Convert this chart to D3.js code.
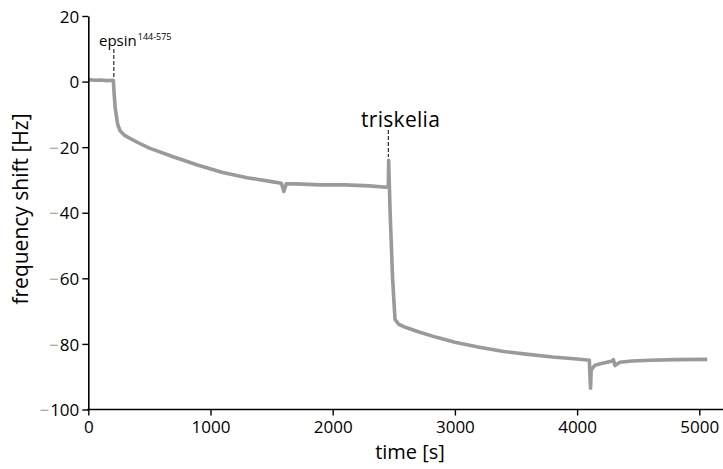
<!DOCTYPE html>
<html>
<head>
<meta charset="utf-8">
<script src="https://cdn.jsdelivr.net/npm/d3@7"></script>
<style>
  body { margin: 0; background: #fff; }
  text { font-family: "Open Sans", "Noto Sans", sans-serif; }
</style>
</head>
<body>
<div id="chart"></div>
<script>
// trace: time [s] and frequency shift [Hz]
var times = [0, 50, 100, 150, 205, 210, 220, 240, 260, 300, 400, 500, 700, 900, 1100, 1300, 1500, 1580, 1600, 1620, 1700, 1900, 2100, 2300, 2440, 2455, 2458, 2470, 2490, 2510, 2540, 2600, 2700, 2850, 3000, 3200, 3400, 3600, 3800, 4000, 4100, 4110, 4115, 4145, 4200, 4280, 4297, 4310, 4350, 4450, 4600, 4800, 5065]
var shifts = [0.6, 0.4, 0.5, 0.3, 0.4, -3, -8, -13, -15, -16.5, -18.5, -20.3, -23, -25.5, -27.7, -29.3, -30.5, -31, -33.5, -31.2, -31.2, -31.5, -31.5, -31.8, -32.2, -32, -24, -40, -60, -72.5, -74, -75, -76.3, -78, -79.5, -81, -82.3, -83.2, -84, -84.6, -85, -93.5, -88, -86.5, -86, -85.3, -84.8, -86.6, -85.6, -85.2, -85, -84.8, -84.7]

var xTicks = [0, 1000, 2000, 3000, 4000, 5000]
var yTicks = [-100, -80, -60, -40, -20, 0, 20]

// injection markers
var markers = [
  { time: 205, name: "epsin", sup: "144-575" },
  { time: 2455, name: "triskelia", sup: "" }
]

var width = 723, height = 469

var svg = d3.select("#chart").append("svg")
    .attr("width", width)
    .attr("height", height)

var x = d3.scaleLinear().domain([0, 5000]).range([88.3, 699.3])
var y = d3.scaleLinear().domain([-100, 20]).range([409.5, 16])

// trace
var line = d3.line()
    .x(function(d, i) { return x(times[i]) })
    .y(function(d) { return y(d) })

svg.append("path")
    .datum(shifts)
    .attr("fill", "none")
    .attr("stroke", "#9a9a9a")
    .attr("stroke-width", 3.6)
    .attr("stroke-linejoin", "round")
    .attr("d", line)

// y axis
var yAxis = svg.append("g")
    .attr("transform", "translate(" + x(0) + ",0)")
    .call(d3.axisLeft(y).tickValues(yTicks).tickSize(6).tickSizeOuter(0).tickFormat(""))
yAxis.select(".domain").attr("stroke-width", 1.6)
yAxis.selectAll(".tick line").attr("stroke-width", 1.4)

yAxis.selectAll(".tick").append("text")
    .attr("x", -9)
    .attr("dy", "0.36em")
    .attr("text-anchor", "end")
    .style("font-size", "17px")
    .each(function(d) {
      var t = d3.select(this)
      if (d < 0) t.append("tspan").attr("fill", "#999").text("\u2212")
      t.append("tspan").attr("fill", "#000").attr("dx", d < 0 ? 1 : 0).text(Math.abs(d))
    })

// x axis
var xAxis = svg.append("g")
    .attr("transform", "translate(0," + y(-100) + ")")
    .call(d3.axisBottom(x).tickValues(xTicks).tickSize(6).tickSizeOuter(0).tickFormat(d3.format("d")))
xAxis.select(".domain").remove()
xAxis.append("line")
    .attr("x1", x(0) - 1).attr("x2", width)
    .attr("stroke", "#000").attr("stroke-width", 1.6)
xAxis.selectAll(".tick line").attr("stroke-width", 1.4)
xAxis.selectAll(".tick text")
    .attr("y", 23)
    .attr("dy", 0)
    .attr("fill", "#000")
    .style("font-size", "17px")
    .style("font-family", "'Open Sans', sans-serif")

// axis titles
svg.append("text")
    .attr("x", 410)
    .attr("y", 459)
    .attr("text-anchor", "middle")
    .style("font-size", "20px")
    .text("time [s]")

svg.append("text")
    .attr("transform", "translate(28,209) rotate(-90)")
    .attr("text-anchor", "middle")
    .style("font-size", "21px")
    .text("frequency shift [Hz]")

// marker 1: epsin
svg.append("line")
    .attr("x1", x(markers[0].time) + 0.5).attr("x2", x(markers[0].time) + 0.5)
    .attr("y1", 49).attr("y2", 78)
    .attr("stroke", "#000").attr("stroke-width", 1)
    .attr("stroke-dasharray", "4,2")

var lab1 = svg.append("text")
    .attr("x", 99)
    .attr("y", 46)
    .style("font-size", "15px")
lab1.append("tspan").text(markers[0].name)
lab1.append("tspan").attr("dx", 1).attr("dy", -6).style("font-size", "9px").text(markers[0].sup)

// marker 2: triskelia
svg.append("line")
    .attr("x1", x(markers[1].time)).attr("x2", x(markers[1].time))
    .attr("y1", 130).attr("y2", 157)
    .attr("stroke", "#000").attr("stroke-width", 1)
    .attr("stroke-dasharray", "4,2")

svg.append("text")
    .attr("x", 361)
    .attr("y", 127)
    .style("font-size", "21px")
    .style("letter-spacing", "0.3px")
    .text(markers[1].name)
</script>
</body>
</html>
